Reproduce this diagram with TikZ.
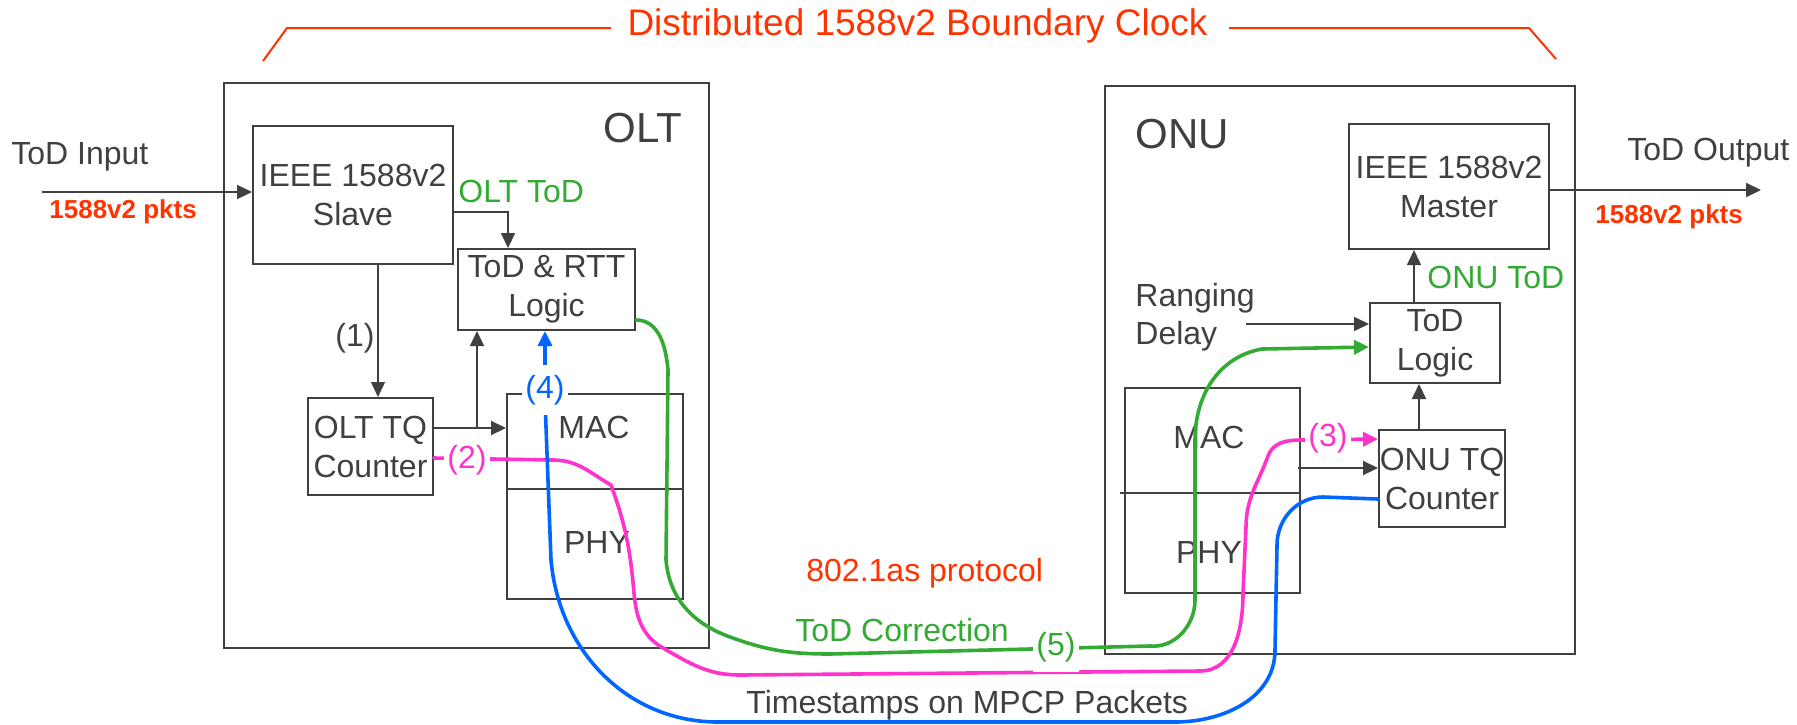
\documentclass[tikz,border=0pt]{standalone}
\usepackage{fontspec}
\setmainfont{Liberation Sans}
\usetikzlibrary{calc}
\usetikzlibrary{arrows.meta}
\definecolor{dgray}{HTML}{404040}
\definecolor{tred}{HTML}{FF3300}
\definecolor{tgreen}{HTML}{33AA33}
\definecolor{tpink}{HTML}{FF33CC}
\definecolor{tblue}{HTML}{0066FF}
\tikzset{%
  myedge/.style={>={Triangle[length=7.5pt,width=7pt]}, ->, draw=dgray, line width=1pt},
  thinedge/.style={myedge, line width=0.65pt},
  mybox/.style={draw=dgray, line width=1pt, inner sep=0pt, align=center, text=dgray, font=\fontsize{16}{19.5}\selectfont},
  mytext/.style={inner sep=0pt, align=left, text=dgray, font=\fontsize{16}{19}\selectfont},
  mylabel/.style={fill=white, inner xsep=1.5pt, inner ysep=5pt, font=\fontsize{16}{19}\selectfont},
  mycurve/.style={myedge, line width=1.8pt, line cap=round, line join=round}
}

\begin{document}
\begin{tikzpicture}[x=0.5pt,y=-0.5pt]
\useasboundingbox (0,0) rectangle (1797,724);

% title
\node [mytext, text=tred, font=\fontsize{18.5}{22}\selectfont] (title) at (917.5,26) {Distributed 1588v2 Boundary Clock};
\draw [tred, line width=1pt] (263,61) -- (287,28) -- (611,28);
\draw [tred, line width=1pt] (1229,28) -- (1529,28) -- (1556,59);

% OLT
\node [mybox, minimum width=242.5pt, minimum height=282.5pt] (olt) at (466.5,365.5) {};
\node [mytext, font=\fontsize{21}{25}\selectfont] (oltname) at (643,128) {OLT};
\node [mybox, minimum width=100pt, minimum height=69pt] (slave) at (353,195) {IEEE 1588v2\\Slave};
\node [mybox, minimum width=88.5pt, minimum height=40.5pt] (rtt) at (546.5,289.5) {ToD \& RTT\\Logic};
\node [mybox, minimum width=62.5pt, minimum height=48.5pt] (olttq) at (370.5,446.5) {OLT TQ\\Counter};
\node [mybox, minimum width=88pt, minimum height=102.5pt] (oltmp) at (595,496.5) {};
\draw [dgray, line width=1pt] (oltmp.west |- 0,489) -- (oltmp.east |- 0,489);
\node [mytext] (oltmac) at (594,427) {MAC};
\node [mytext] (oltphy) at (597,542) {PHY};

\node [mytext, anchor=west] (todin) at (11,157) {ToD Input};
\node [mytext, anchor=west, text=tred, font=\bfseries\fontsize{13}{16}\selectfont] (pktsin) at (49,212) {1588v2 pkts};
\coordinate (inend) at (42,192);
\draw [myedge] (inend) -- (inend -| slave.west);

\node [mytext, anchor=west, text=tgreen] (olttod) at (458,191) {OLT ToD};
\draw [myedge] ($(slave.east)+(0,17)$) -| ($(rtt.north)+(-38.5,0)$);

\coordinate (s1) at ($(slave.south)+(25,0)$);
\draw [thinedge] (s1) -- (s1 |- olttq.north);
\node [mytext] (one) at (355,338) {(1)};

\coordinate (t1) at ($(olttq.east)+(0,-18.5)$);
\draw [myedge] (t1) -- (t1 -| oltmp.west);
\coordinate (t2) at ($(t1)+(43,0)$);
\draw [thinedge] (t2) -- (t2 |- rtt.south);

% ONU
\node [mybox, minimum width=235pt, minimum height=284pt] (onu) at (1340,370) {};
\node [mytext, anchor=west, font=\fontsize{21}{25}\selectfont] (onuname) at (1135,134) {ONU};
\node [mybox, minimum width=100pt, minimum height=62.5pt] (master) at (1449,186.5) {IEEE 1588v2\\Master};
\node [mybox, minimum width=65pt, minimum height=40pt] (onulogic) at (1435,343) {ToD\\Logic};
\node [mybox, minimum width=63pt, minimum height=48.5pt] (onutq) at (1442,478.5) {ONU TQ\\Counter};
\node [mybox, minimum width=87.5pt, minimum height=102.5pt] (onump) at (1212.5,490.5) {};
\draw [dgray, line width=1pt] (1120,493) -- (onump.east |- 0,493);
\node [mytext] (onumac) at (1209,437) {MAC};
\node [mytext] (onuphy) at (1209,552) {PHY};

\node [mytext, anchor=west] (todout) at (1627,153) {ToD Output};
\node [mytext, anchor=west, text=tred, font=\bfseries\fontsize{13}{16}\selectfont] (pktsout) at (1595,217) {1588v2 pkts};
\coordinate (outend) at (1761,190);
\draw [myedge] (outend -| master.east) -- (outend);

\node [mytext, anchor=west, text=tgreen] (onutod) at (1427,277) {ONU ToD};
\coordinate (u1) at ($(onulogic.north)+(-21,0)$);
\draw [thinedge] (u1) -- (u1 |- master.south);

\node [mytext, anchor=west] (ranging) at (1135,317) {Ranging\\Delay};
\coordinate (r1) at (1246,324);
\draw [myedge] (r1) -- (r1 -| onulogic.west);

\coordinate (u2) at ($(onutq.north)+(-23,0)$);
\draw [myedge] (u2) -- (u2 |- onulogic.south);
\coordinate (m1) at (1298,468);
\draw [myedge] (m1) -- (m1 -| onutq.west);

% bottom texts
\node [mytext, anchor=west, text=tred] (proto) at (806,573) {802.1as protocol};
\node [mytext, anchor=west, text=tgreen] (corr) at (795,630) {ToD Correction};
\node [mytext, anchor=west] (stamps) at (746,705) {Timestamps on MPCP Packets};

% curves
\draw [mycurve, draw=tgreen] ($(rtt.east)+(0,30.5)$) to[out=0,in=95] (668,370)
  -- (666,560) to[out=-85,in=160] (730,637) to[out=-20,in=180] (830,654) -- (1150,646)
  to[out=-5,in=-90] (1195,600) -- (1195,440) to[out=90,in=190] (1262,349) -- ($(onulogic.west)+(0,4)$);
\draw [mycurve, draw=tpink] ($(olttq.east)+(0,11.5)$) -- (553,460) to[out=0,in=150] (611,485)
  to[out=-70,in=95] (634,593) to[out=-85,in=150] (663,648) to[out=-30,in=180] (740,675)
  -- (1200,671) to[out=0,in=-90] (1243,593) -- (1246,527) to[out=90,in=-110] (1268,456)
  to[out=70,in=180] (1300,440) -- ($(onutq.west)+(0,-39.5)$);
\draw [mycurve, draw=tblue] ($(onutq.west)+(0,20.5)$) -- (1323,497) to[out=180,in=90] (1277,545)
  -- (1275,650) to[out=-90,in=0] (1175,722) -- (718,722) to[out=180,in=-85] (551,560)
  -- (545,400) -- ($(rtt.south)+(-1.5,0)$);

% labels on curves
\node [mylabel, text=tblue] (four) at (545,390) {(4)};
\node [mylabel, text=tpink] (two) at (467,460) {(2)};
\node [mylabel, text=tpink] (three) at (1328,438) {(3)};
\node [mylabel, text=tgreen] (five) at (1056,647) {(5)};
\end{tikzpicture}
\end{document}
